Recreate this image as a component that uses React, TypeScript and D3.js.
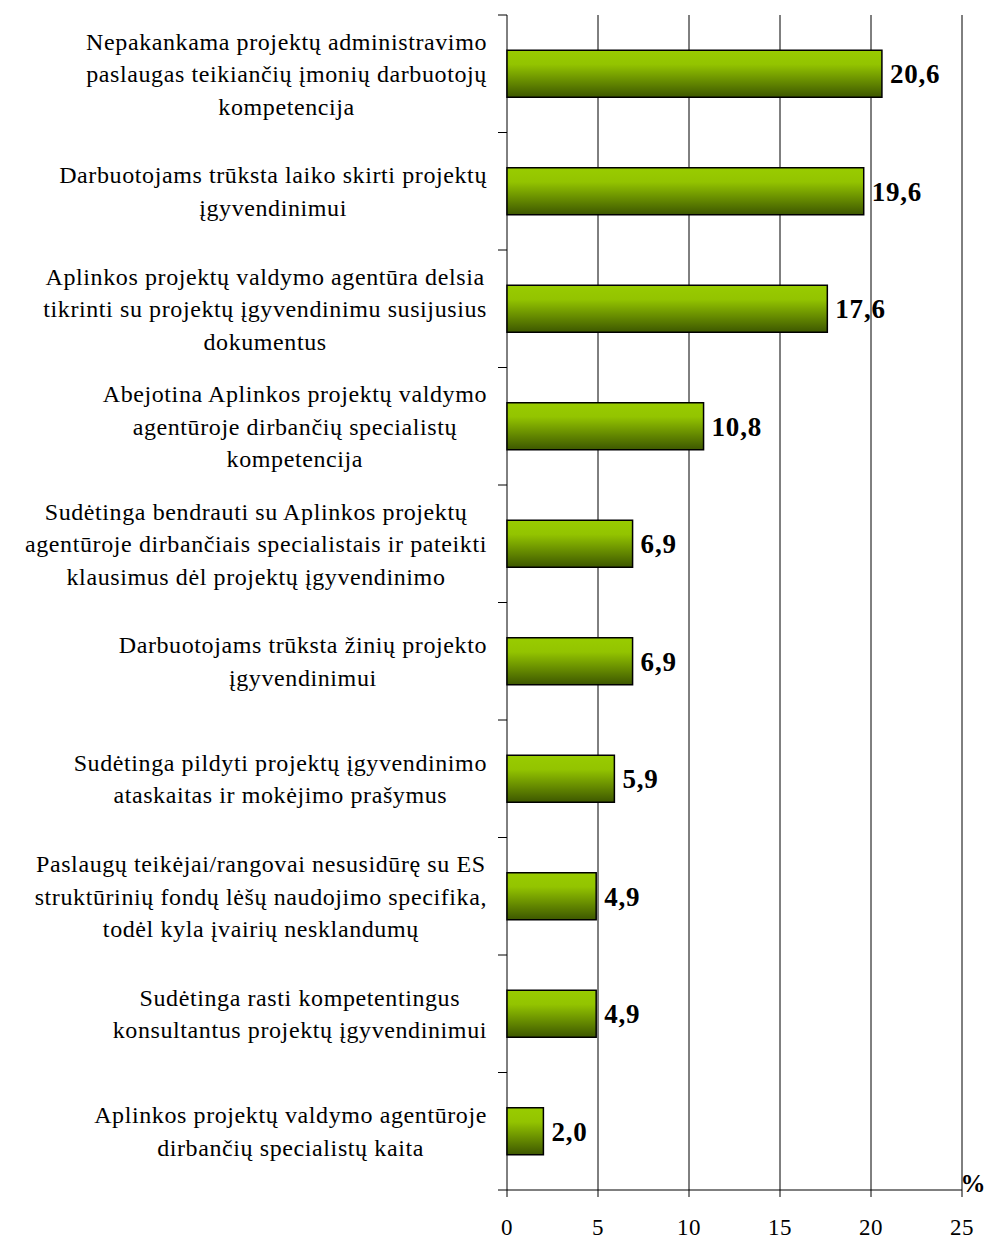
import { useRef, useEffect } from "react";
import * as d3 from "d3";

const CATEGORIES: string[][] = [
  ["Nepakankama projektų administravimo", "paslaugas teikiančių įmonių darbuotojų", "kompetencija"],
  ["Darbuotojams trūksta laiko skirti projektų", "įgyvendinimui"],
  ["Aplinkos projektų valdymo agentūra delsia", "tikrinti su projektų įgyvendinimu susijusius", "dokumentus"],
  ["Abejotina Aplinkos projektų valdymo", "agentūroje dirbančių specialistų", "kompetencija"],
  ["Sudėtinga bendrauti su Aplinkos projektų", "agentūroje dirbančiais specialistais ir pateikti", "klausimus dėl projektų įgyvendinimo"],
  ["Darbuotojams trūksta žinių projekto", "įgyvendinimui"],
  ["Sudėtinga pildyti projektų įgyvendinimo", "ataskaitas ir mokėjimo prašymus"],
  ["Paslaugų teikėjai/rangovai nesusidūrę su ES", "struktūrinių fondų lėšų naudojimo specifika,", "todėl kyla įvairių nesklandumų"],
  ["Sudėtinga rasti kompetentingus", "konsultantus projektų įgyvendinimui"],
  ["Aplinkos projektų valdymo agentūroje", "dirbančių specialistų kaita"],
];
const VALUES = [20.6, 19.6, 17.6, 10.8, 6.9, 6.9, 5.9, 4.9, 4.9, 2.0];
const X_TICKS = [0, 5, 10, 15, 20, 25];

const W = 986;
const H = 1239;
const FONT = "'Liberation Serif', 'Times New Roman', serif";

export default function App() {
  const svgRef = useRef<SVGSVGElement>(null);

  useEffect(() => {
    if (!svgRef.current) return;
    const svg = d3.select(svgRef.current);
    svg.selectAll("*").remove();

    const left = 507;
    const right = 962;
    const top = 15;
    const bottom = 1190;

    const x = d3.scaleLinear().domain([0, 25]).range([left, right]);
    const idx = VALUES.map((_, i) => String(i));
    const y = d3.scaleBand().domain(idx).range([top, bottom]).paddingInner(0.6).paddingOuter(0.3);
    const step = y.step();

    const grad = svg
      .append("defs")
      .append("linearGradient")
      .attr("id", "barGrad")
      .attr("x1", 0)
      .attr("y1", 0)
      .attr("x2", 0)
      .attr("y2", 1);
    grad.append("stop").attr("offset", "0%").attr("stop-color", "#99cc00");
    grad.append("stop").attr("offset", "30%").attr("stop-color", "#93c400");
    grad.append("stop").attr("offset", "100%").attr("stop-color", "#3d5700");

    // vertical gridlines
    svg
      .append("g")
      .selectAll("line")
      .data(X_TICKS.slice(1))
      .enter()
      .append("line")
      .attr("x1", (d) => x(d))
      .attr("x2", (d) => x(d))
      .attr("y1", top)
      .attr("y2", bottom)
      .attr("stroke", "#000")
      .attr("stroke-width", 1);

    // left axis
    svg
      .append("line")
      .attr("x1", left)
      .attr("x2", left)
      .attr("y1", top)
      .attr("y2", bottom)
      .attr("stroke", "#000");
    svg
      .append("g")
      .selectAll("line")
      .data(d3.range(VALUES.length + 1))
      .enter()
      .append("line")
      .attr("x1", left - 9)
      .attr("x2", left)
      .attr("y1", (i) => top + i * step)
      .attr("y2", (i) => top + i * step)
      .attr("stroke", "#000");

    // bottom axis
    svg
      .append("line")
      .attr("x1", left)
      .attr("x2", right)
      .attr("y1", bottom)
      .attr("y2", bottom)
      .attr("stroke", "#000");
    svg
      .append("g")
      .selectAll("line")
      .data(X_TICKS)
      .enter()
      .append("line")
      .attr("x1", (d) => x(d))
      .attr("x2", (d) => x(d))
      .attr("y1", bottom)
      .attr("y2", bottom + 7)
      .attr("stroke", "#000");
    svg
      .append("g")
      .selectAll("text")
      .data(X_TICKS)
      .enter()
      .append("text")
      .attr("x", (d) => x(d))
      .attr("y", bottom + 45)
      .attr("text-anchor", "middle")
      .style("font-family", FONT)
      .style("font-size", "23px")
      .style("letter-spacing", "0.5px")
      .text((d) => d);

    svg
      .append("text")
      .attr("x", 973)
      .attr("y", bottom + 2)
      .attr("text-anchor", "middle")
      .style("font-family", FONT)
      .style("font-size", "25px")
      .style("font-weight", "bold")
      .text("%");

    // bars
    svg
      .append("g")
      .selectAll("rect")
      .data(VALUES)
      .enter()
      .append("rect")
      .attr("x", x(0))
      .attr("y", (_, i) => y(String(i))!)
      .attr("width", (d) => x(d) - x(0))
      .attr("height", y.bandwidth())
      .attr("fill", "url(#barGrad)")
      .attr("stroke", "#000")
      .attr("stroke-width", 1.5);

    // value labels
    svg
      .append("g")
      .selectAll("text")
      .data(VALUES)
      .enter()
      .append("text")
      .attr("x", (d) => x(d) + 8)
      .attr("y", (_, i) => y(String(i))! + y.bandwidth() / 2)
      .attr("dy", "0.35em")
      .style("font-family", FONT)
      .style("font-size", "27px")
      .style("font-weight", "bold")
      .style("letter-spacing", "0.8px")
      .text((d) => d.toFixed(1).replace(".", ","));

    // category labels: block right-aligned, lines centred within block
    const labelRight = 487;
    const lineH = 32.5;
    CATEGORIES.forEach((lines, i) => {
      const cy = y(String(i))! + y.bandwidth() / 2;
      const g = svg.append("g");
      const texts = g
        .selectAll("text")
        .data(lines)
        .enter()
        .append("text")
        .attr("y", (_, j) => cy + (j - (lines.length - 1) / 2) * lineH)
        .attr("dy", "0.35em")
        .attr("text-anchor", "middle")
        .style("font-family", FONT)
        .style("font-size", "24px")
        .style("letter-spacing", "0.6px")
        .text((d) => d);
      let maxW = 0;
      texts.each(function () {
        maxW = Math.max(maxW, (this as SVGTextElement).getComputedTextLength());
      });
      texts.attr("x", labelRight - maxW / 2);
    });
  }, []);

  return (
    <svg
      ref={svgRef}
      width={W}
      height={H}
      style={{ position: "absolute", left: 0, top: 0, background: "#fff" }}
    />
  );
}
